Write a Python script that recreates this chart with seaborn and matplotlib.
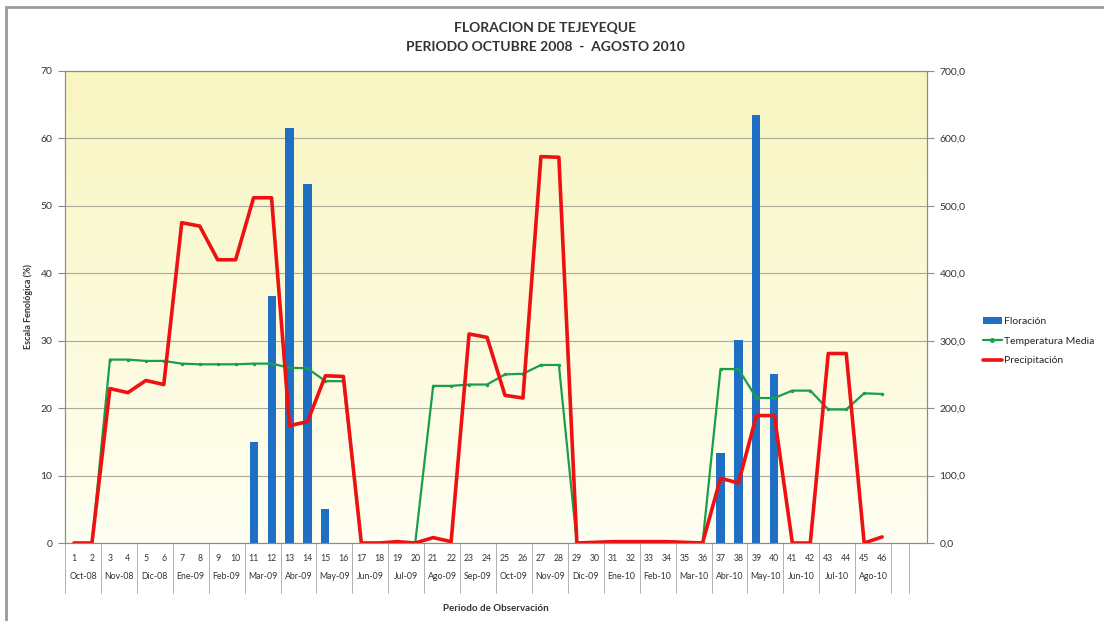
import numpy as np
import pandas as pd
import matplotlib
matplotlib.use("Agg")
import matplotlib.pyplot as plt
import matplotlib.transforms as mtransforms
from matplotlib.colors import LinearSegmentedColormap
from matplotlib.patches import Patch, Rectangle
from matplotlib.lines import Line2D
import seaborn as sns

# observation periods (two per month)
periodo = list(range(1, 47))
meses = ["Oct-08", "Nov-08", "Dic-08", "Ene-09", "Feb-09", "Mar-09", "Abr-09", "May-09",
         "Jun-09", "Jul-09", "Ago-09", "Sep-09", "Oct-09", "Nov-09", "Dic-09", "Ene-10",
         "Feb-10", "Mar-10", "Abr-10", "May-10", "Jun-10", "Jul-10", "Ago-10"]

# Floracion (%) - left axis
floracion = [0, 0, 0, 0, 0, 0, 0, 0, 0, 0,
             15.0, 36.7, 61.6, 53.2, 5.0, 0, 0, 0, 0, 0,
             0, 0, 0, 0, 0, 0, 0, 0, 0, 0,
             0, 0, 0, 0, 0, 0, 13.4, 30.1, 63.4, 25.0,
             0, 0, 0, 0, 0, 0]

# Temperatura media - left axis
temperatura = [0, 0, 27.2, 27.2, 27.0, 27.0, 26.6, 26.5, 26.5, 26.5,
               26.6, 26.6, 26.0, 25.9, 24.0, 24.0, 0, 0, 0, 0,
               23.3, 23.3, 23.5, 23.5, 25.0, 25.1, 26.4, 26.4, 0, 0,
               0, 0, 0, 0, 0, 0, 25.8, 25.8, 21.5, 21.5,
               22.6, 22.6, 19.8, 19.8, 22.2, 22.1]

# Precipitacion (mm) - right axis
precipitacion = [0, 0, 229, 223, 241, 235, 475, 470, 420, 420,
                 512, 512, 174, 180, 248, 247, 0, 0, 2, 0,
                 8, 2, 310, 305, 219, 215, 573, 572, 0, 1,
                 2, 2, 2, 2, 1, 0, 96, 89, 189, 189,
                 0, 0, 281, 281, 0, 9]

df = pd.DataFrame({"periodo": periodo, "floracion": floracion,
                   "temperatura": temperatura, "precipitacion": precipitacion})

sns.set_theme(style="white")
plt.rcParams['font.family'] = ['Lato', 'DejaVu Sans']

BLUE = "#1F6FC4"
GREEN = "#1A9E4A"
RED = "#EE1111"
GRID = "#ABA99A"
FRAME = "#8C8C8C"
TXT = "#333333"

fig = plt.figure(figsize=(11.04, 6.21), dpi=100)
ax = fig.add_axes([0.0589, 0.1256, 0.7808, 0.7601])
ax.set_facecolor("none")

# pale yellow gradient background of the plot area
cmap = LinearSegmentedColormap.from_list("bg", ["#FFFFF2", "#F8F5C0"])
ax.imshow(np.linspace(0, 1, 256).reshape(-1, 1), extent=[0, 1, 0, 1], origin="lower",
          transform=ax.transAxes, cmap=cmap, aspect="auto", zorder=0)

sns.barplot(data=df, x="periodo", y="floracion", native_scale=True, width=0.45,
            color=BLUE, saturation=1, linewidth=0, ax=ax, zorder=2)
sns.lineplot(data=df, x="periodo", y="temperatura", color=GREEN, lw=1.6,
             marker="o", markersize=2.5, markeredgewidth=0, ax=ax, zorder=3)

ax2 = ax.twinx()
sns.lineplot(data=df, x="periodo", y="precipitacion", color=RED, lw=2.6, ax=ax2)

ax.set_xlim(0.5, 48.5)
ax.set_ylim(0, 70)
ax2.set_ylim(0, 700)

ax.set_yticks(range(0, 71, 10))
ax2.set_yticks(range(0, 701, 100))
ax2.set_yticklabels([f"{v:.1f}".replace(".", ",") for v in range(0, 701, 100)])
ax.set_xticks(periodo)
ax.set_xticklabels([str(p) for p in periodo])

ax.yaxis.grid(True, color=GRID, lw=0.8)
ax.set_axisbelow(True)

for a in (ax, ax2):
    for s in a.spines.values():
        s.set_color(FRAME)
        s.set_linewidth(0.8)
ax.tick_params(axis="y", which="both", left=True, length=5, width=0.8, color=FRAME,
               labelsize=7.5, labelcolor=TXT, pad=4)
ax2.tick_params(axis="y", right=True, length=5, width=0.8, color=FRAME,
                labelsize=7.5, labelcolor=TXT, pad=4)
ax.tick_params(axis="x", length=0, labelsize=6.3, labelcolor=TXT, pad=8)

ax.set_xlabel("Periodo de Observación", fontsize=7, fontweight="bold", color=TXT)
ax.xaxis.set_label_coords(0.5, -0.129)
ax.set_ylabel("Escala Fenológica (%)", fontsize=6.5, fontweight="bold", color=TXT)
ax.yaxis.set_label_coords(-0.037, 0.5)
ax2.set_ylabel("")

# month row and group separators below the axis
trans = mtransforms.blended_transform_factory(ax.transData, ax.transAxes)
for i, m in enumerate(meses):
    ax.text(1.5 + 2 * i, -0.072, m, transform=trans, ha="center", va="center",
            fontsize=6.3, color=TXT)
for b in list(np.arange(0.5, 47, 2)) + [47.5]:
    ax.plot([b, b], [0, -0.106], transform=trans, clip_on=False, color="#B0B0B0", lw=0.7)

# titles
fig.text(545 / 1104, 1 - 28 / 621, "FLORACION DE TEJEYEQUE", ha="center", va="center",
         fontsize=10, fontweight="bold", color=TXT)
fig.text(545 / 1104, 1 - 47 / 621, "PERIODO OCTUBRE 2008  -  AGOSTO 2010", ha="center",
         va="center", fontsize=10, fontweight="bold", color=TXT)

handles = [Patch(facecolor=BLUE, edgecolor="none", label="Floración"),
           Line2D([], [], color=GREEN, lw=1.6, marker="o", markersize=2.5, label="Temperatura Media"),
           Line2D([], [], color=RED, lw=2.6, label="Precipitación")]
fig.legend(handles=handles, loc="center left", bbox_to_anchor=(0.882, 0.451), frameon=False,
           fontsize=7.5, handlelength=1.8, handletextpad=0.2, labelspacing=1.0)

# outer chart border
fig.add_artist(Rectangle((6 / 1104, -0.05), 1.2, 1 - 7 / 621 + 0.05, transform=fig.transFigure,
                         fill=False, edgecolor="#9A9A9A", lw=2))

fig.savefig("out.png", dpi=100)
